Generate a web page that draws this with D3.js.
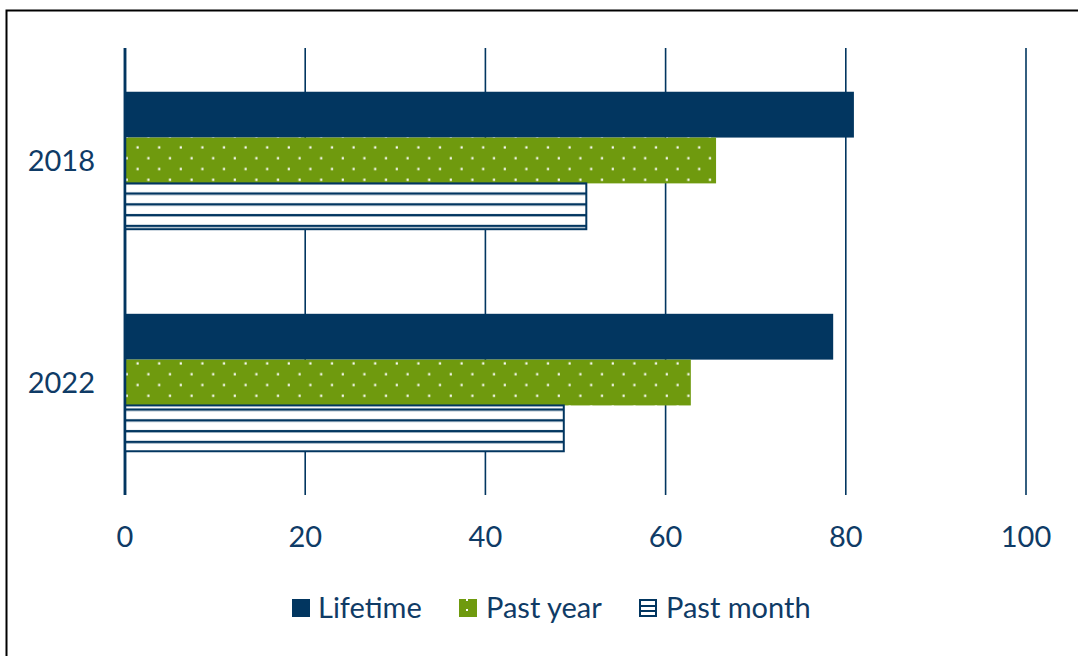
<!DOCTYPE html>
<html>
<head>
<meta charset="utf-8">
<script src="https://cdn.jsdelivr.net/npm/d3@7"></script>
<style>
  html, body { margin: 0; padding: 0; background: #fff; }
  svg { display: block; }
</style>
</head>
<body>
<svg id="chart" width="1078" height="656"></svg>
<script>
// Survey years and prevalence (%) by recall period
const years = ["2018", "2022"];
const seriesNames = ["Lifetime", "Past year", "Past month"];
const lifetime = [80.9, 78.6];
const pastYear = [65.6, 62.8];
const pastMonth = [51.2, 48.7];
const xTicks = [0, 20, 40, 60, 80, 100];

const navy = "#023660";
const green = "#6f9a0e";
const textColor = "#0f3b66";
const font = "Lato, 'Open Sans', sans-serif";
const fontSize = 29;

const svg = d3.select("#chart");
const width = 1078, height = 656;

// Frame around the chart area
svg.append("rect")
  .attr("x", 6.5).attr("y", 10.5)
  .attr("width", width + 10).attr("height", height + 10)
  .attr("fill", "#fff").attr("stroke", "#000").attr("stroke-width", 2);

// Fill patterns
const defs = svg.append("defs");
const dots = defs.append("pattern")
  .attr("id", "dots").attr("patternUnits", "userSpaceOnUse")
  .attr("width", 21.6).attr("height", 21.6)
  .attr("x", 125).attr("y", 138);
dots.append("rect").attr("width", 21.6).attr("height", 21.6).attr("fill", green);
dots.append("rect").attr("x", 11.5).attr("y", 8.3).attr("width", 2.2).attr("height", 2.2).attr("fill", "#fff");
dots.append("rect").attr("x", 0.7).attr("y", 19.1).attr("width", 2.2).attr("height", 2.2).attr("fill", "#fff");

const lines = defs.append("pattern")
  .attr("id", "hlines").attr("patternUnits", "userSpaceOnUse")
  .attr("width", 10).attr("height", 10.8)
  .attr("x", 0).attr("y", 1);
lines.append("rect").attr("width", 10).attr("height", 10.8).attr("fill", "#fff");
lines.append("rect").attr("x", 0).attr("y", 7.8).attr("width", 10).attr("height", 2.4).attr("fill", navy);

const margin = { left: 125, right: 52, top: 48, bottom: 161 };
const x = d3.scaleLinear().domain([0, 100]).range([margin.left, width - margin.right]);
const y0 = d3.scaleBand().domain(years).range([margin.top, height - margin.bottom]).paddingInner(0.381).paddingOuter(0.197);
const y1 = d3.scaleBand().domain(seriesNames).range([0, y0.bandwidth()]);

// Vertical gridlines
svg.append("g")
  .selectAll("line").data(xTicks).join("line")
  .attr("x1", d => x(d)).attr("x2", d => x(d))
  .attr("y1", margin.top).attr("y2", height - margin.bottom)
  .attr("stroke", navy).attr("stroke-width", d => d === 0 ? 2.5 : 1.6);

// Bars
const values = { "Lifetime": lifetime, "Past year": pastYear, "Past month": pastMonth };
const fills = { "Lifetime": navy, "Past year": "url(#dots)", "Past month": "url(#hlines)" };

const rows = [];
years.forEach((yr, i) => seriesNames.forEach(s => rows.push({ year: yr, series: s, value: values[s][i] })));

svg.append("g")
  .selectAll("rect").data(rows).join("rect")
  .attr("x", x(0))
  .attr("y", d => y0(d.year) + y1(d.series))
  .attr("width", d => x(d.value) - x(0))
  .attr("height", y1.bandwidth())
  .attr("fill", d => fills[d.series])
  .attr("stroke", d => d.series === "Past month" ? navy : "none")
  .attr("stroke-width", 2);

// Redraw the zero line over the bars
svg.append("line")
  .attr("x1", x(0)).attr("x2", x(0))
  .attr("y1", margin.top).attr("y2", height - margin.bottom)
  .attr("stroke", navy).attr("stroke-width", 2.5);

// Category labels
svg.append("g")
  .selectAll("text").data(years).join("text")
  .attr("x", 95)
  .attr("y", d => y0(d) + y0.bandwidth() / 2)
  .attr("dy", "0.35em")
  .attr("text-anchor", "end")
  .attr("font-family", font).attr("font-size", fontSize)
  .attr("fill", textColor)
  .text(d => d);

// Value axis labels
svg.append("g")
  .selectAll("text").data(xTicks).join("text")
  .attr("x", d => x(d))
  .attr("y", 537)
  .attr("dy", "0.35em")
  .attr("text-anchor", "middle")
  .attr("font-family", font).attr("font-size", fontSize)
  .attr("fill", textColor)
  .text(d => d);

// Legend
const legendItems = [
  { name: "Lifetime", sx: 292, tx: 318 },
  { name: "Past year", sx: 459, tx: 486 },
  { name: "Past month", sx: 639, tx: 666 }
];
const lg = svg.append("g");
legendItems.forEach(item => {
  if (item.name === "Lifetime") {
    lg.append("rect").attr("x", item.sx).attr("y", 599).attr("width", 18).attr("height", 18).attr("fill", navy);
  } else if (item.name === "Past year") {
    lg.append("rect").attr("x", item.sx).attr("y", 599).attr("width", 18).attr("height", 18).attr("fill", green);
    lg.append("rect").attr("x", item.sx + 7).attr("y", 599).attr("width", 2).attr("height", 2).attr("fill", "#fff");
    lg.append("rect").attr("x", item.sx + 7).attr("y", 609).attr("width", 2).attr("height", 2).attr("fill", "#fff");
  } else {
    lg.append("rect").attr("x", item.sx + 1).attr("y", 600).attr("width", 16).attr("height", 16)
      .attr("fill", "#fff").attr("stroke", navy).attr("stroke-width", 2);
    lg.append("rect").attr("x", item.sx + 1).attr("y", 605).attr("width", 16).attr("height", 2).attr("fill", navy);
    lg.append("rect").attr("x", item.sx + 1).attr("y", 610).attr("width", 16).attr("height", 2).attr("fill", navy);
  }
  lg.append("text")
    .attr("x", item.tx).attr("y", 608).attr("dy", "0.35em")
    .attr("font-family", font).attr("font-size", fontSize)
    .attr("fill", textColor)
    .text(item.name);
});
</script>
</body>
</html>
